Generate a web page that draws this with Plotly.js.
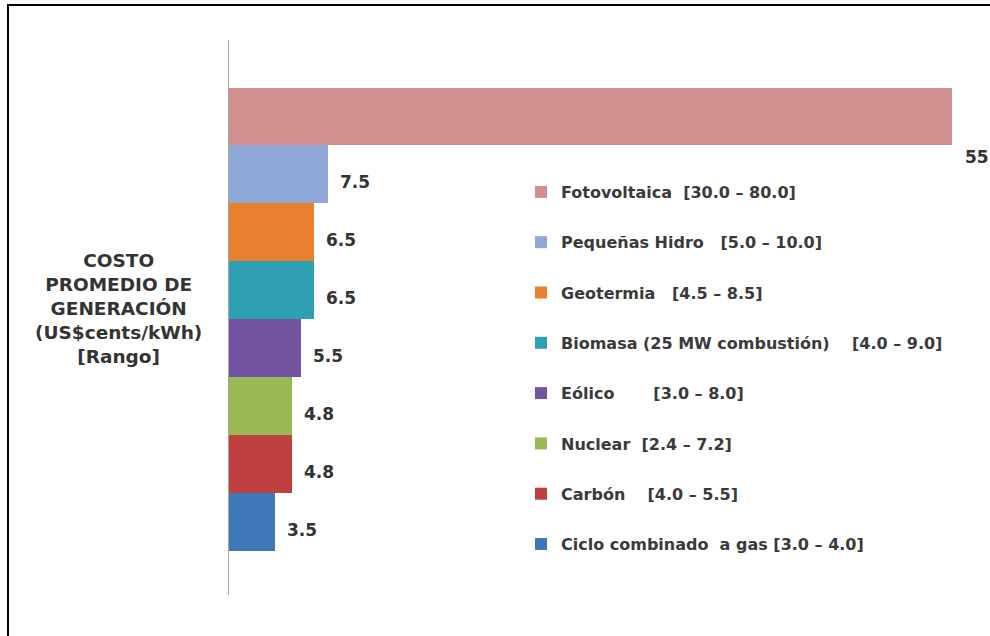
<!DOCTYPE html>
<html>
<head>
<meta charset="utf-8">
<script src="https://cdn.plot.ly/plotly-3.0.1.min.js"></script>
<style>
  html, body { margin: 0; padding: 0; background: #ffffff; }
  #chart { width: 990px; height: 636px; }
</style>
</head>
<body>
<div id="chart"></div>
<script>
// Average generation cost by technology (US cents/kWh) and its range
const tecnologias = ['Fotovoltaica', 'Pequeñas Hidro', 'Geotermia', 'Biomasa (25 MW combustión)', 'Eólico', 'Nuclear', 'Carbón', 'Ciclo combinado  a gas'];
const costoPromedio = [55, 7.5, 6.5, 6.5, 5.5, 4.8, 4.8, 3.5];
const rangos = ['[30.0 – 80.0]', '[5.0 – 10.0]', '[4.5 – 8.5]', '[4.0 – 9.0]', '[3.0 – 8.0]', '[2.4 – 7.2]', '[4.0 – 5.5]', '[3.0 – 4.0]'];
const colores = ['#D09090', '#8FA8D8', '#E8802F', '#2FA0B4', '#7253A0', '#98B954', '#C0403F', '#3F78B8'];
const etiquetaEje = 'COSTO<br>PROMEDIO DE<br>GENERACIÓN<br>(US$cents/kWh)<br>[Rango]';

// gap (in non-breaking spaces) between the name and the range in each legend entry
const separacion = [2, 3, 3, 4, 7, 2, 4, 1];

const W = 990, H = 636;
const M = { l: 229, r: 12, t: 40, b: 41 };
const plotW = W - M.l - M.r, plotH = H - M.t - M.b;
const px2x = p => (p - M.l) / plotW;          // page x (px) -> paper x
const px2y = p => (H - M.b - p) / plotH;      // page y (px) -> paper y

const nbsp = n => '\u00A0'.repeat(n);

const traces = tecnologias.map((t, i) => ({
  type: 'bar',
  orientation: 'h',
  x: [costoPromedio[i]],
  y: [t],
  name: t.replace(/ {2}/g, nbsp(2)) + nbsp(separacion[i]) + rangos[i],
  legendgroup: 'g' + i,
  marker: { color: colores[i], line: { width: 0 } },
  hoverinfo: 'x+name'
}));

const fontFam = 'DejaVu Sans, Verdana, sans-serif';

// value labels next to the end of each bar
const labels = tecnologias.map((t, i) => ({
  xref: 'x', yref: 'y',
  x: costoPromedio[i], y: t,
  text: String(costoPromedio[i]),
  showarrow: false,
  xanchor: 'left', yanchor: 'middle',
  xshift: i === 0 ? 11 : 10,
  yshift: i === 0 ? -41 : -8,
  font: { family: fontFam, size: 17, color: '#333333', weight: 'bold' }
}));

labels.push({
  xref: 'paper', yref: 'paper',
  x: px2x(118), y: px2y(308),
  xanchor: 'center', yanchor: 'middle',
  text: etiquetaEje,
  align: 'center',
  showarrow: false,
  font: { family: fontFam, size: 18.5, color: '#333333', weight: 'bold' }
});

const layout = {
  width: W, height: H,
  margin: M,
  paper_bgcolor: '#ffffff',
  plot_bgcolor: '#ffffff',
  barmode: 'overlay',
  bargap: 0,
  showlegend: true,
  legend: {
    x: px2x(521), y: px2y(175),
    xanchor: 'left', yanchor: 'top',
    traceorder: 'grouped',
    tracegroupgap: 26.5,
    itemwidth: 30,
    bgcolor: 'rgba(0,0,0,0)',
    font: { family: fontFam, size: 16, color: '#3a3a3a', weight: 'bold' }
  },
  xaxis: {
    range: [0, 57],
    visible: false,
    fixedrange: true
  },
  yaxis: {
    type: 'category',
    categoryorder: 'array',
    categoryarray: tecnologias,
    range: [8.26, -1.32],
    showline: true,
    linecolor: '#a6a6a6',
    linewidth: 1.5,
    showticklabels: false,
    ticks: '',
    showgrid: false,
    zeroline: false,
    fixedrange: true
  },
  annotations: labels,
  shapes: [{
    type: 'rect', xref: 'paper', yref: 'paper',
    x0: px2x(8), x1: px2x(1010),
    y0: px2y(660), y1: px2y(5),
    line: { color: '#000000', width: 2 },
    fillcolor: 'rgba(0,0,0,0)'
  }]
};

Plotly.newPlot('chart', traces, layout, { displayModeBar: false, staticPlot: true });
</script>
</body>
</html>
